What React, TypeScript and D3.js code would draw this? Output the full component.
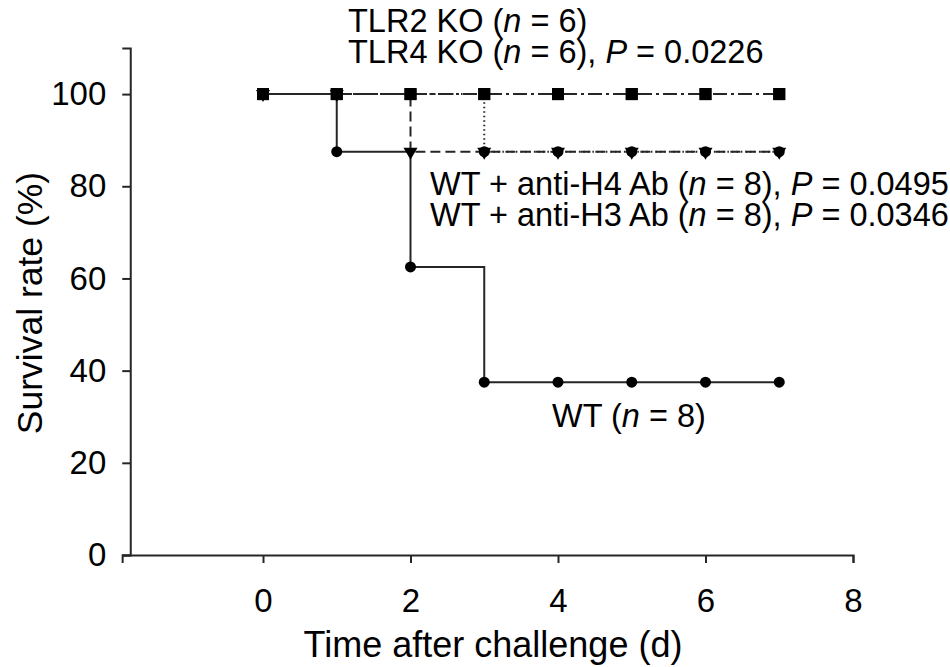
import React, { useEffect, useRef } from 'react';
import * as d3 from 'd3';

// survival (%) per day
const days = [0, 1, 2, 3, 4, 5, 6, 7];
const wtSurvival = [100, 87.5, 62.5, 37.5, 37.5, 37.5, 37.5, 37.5];
const tlr2Survival = [100, 100, 100, 100, 100, 100, 100, 100];
const tlr4Survival = [100, 100, 100, 100, 100, 100, 100, 100];
const antiH4Survival = [100, 100, 87.5, 87.5, 87.5, 87.5, 87.5, 87.5];
const antiH3Survival = [100, 100, 100, 87.5, 87.5, 87.5, 87.5, 87.5];

const xTicks = [0, 2, 4, 6, 8];
const yTicks = [0, 20, 40, 60, 80, 100];

const xTitle = 'Time after challenge (d)';
const yTitle = 'Survival rate (%)';

// label parts: [text, italic]
const tlr2Label = [['TLR2 KO (', false], ['n', true], [' = 6)', false]];
const tlr4Label = [['TLR4 KO (', false], ['n', true], [' = 6), ', false], ['P', true], [' = 0.0226', false]];
const h4Label = [['WT + anti-H4 Ab (', false], ['n', true], [' = 8), ', false], ['P', true], [' = 0.0495', false]];
const h3Label = [['WT + anti-H3 Ab (', false], ['n', true], [' = 8), ', false], ['P', true], [' = 0.0346', false]];
const wtLabel = [['WT (', false], ['n', true], [' = 8)', false]];

const FONT = '"Liberation Sans", Arial, Helvetica, sans-serif';
const LINE = '#262626';

export default function App() {
  const ref = useRef<SVGSVGElement>(null);

  useEffect(() => {
    const svg = d3.select(ref.current);
    svg.selectAll('*').remove();

    const x = d3.scaleLinear().domain([0, 8]).range([263, 853]);
    const y = d3.scaleLinear().domain([0, 110]).range([555, 48]);

    // x axis runs a little past the y axis on the left
    const xAxisScale = d3.scaleLinear().domain([-1.91, 8]).range([x(-1.91), x(8)]);
    const gx = svg.append('g')
      .attr('transform', `translate(0, ${y(0)})`)
      .call(d3.axisBottom(xAxisScale).tickValues(xTicks).tickSizeOuter(0).tickSize(8).tickPadding(26).tickFormat(d3.format('d')));
    gx.select('.domain').attr('stroke', LINE).attr('stroke-width', 2);
    gx.selectAll('.tick line').attr('stroke', LINE).attr('stroke-width', 2);
    gx.selectAll('.tick text').attr('font-size', 33).attr('font-family', FONT).attr('fill', '#000');

    const axisX = x(-1.8);
    const gy = svg.append('g')
      .attr('transform', `translate(${axisX}, 0)`)
      .call(d3.axisLeft(y).tickValues(yTicks).tickSizeOuter(0).tickSize(8).tickPadding(16).tickFormat(d3.format('d')));
    gy.select('.domain').attr('stroke', LINE).attr('stroke-width', 2);
    gy.selectAll('.tick line').attr('stroke', LINE).attr('stroke-width', 2);
    gy.selectAll('.tick text').attr('font-size', 33).attr('font-family', FONT).attr('fill', '#000');

    // titles
    svg.append('text')
      .attr('x', 493).attr('y', 657)
      .attr('text-anchor', 'middle')
      .attr('font-size', 36).attr('font-family', FONT)
      .text(xTitle);
    svg.append('text')
      .attr('transform', `translate(42, 303) rotate(-90)`)
      .attr('text-anchor', 'middle')
      .attr('font-size', 35.5).attr('font-family', FONT)
      .text(yTitle);

    const step = d3.line<number>()
      .x((d, i) => x(days[i]))
      .y(d => y(d))
      .curve(d3.curveStepAfter);

    const series = [
      { values: tlr2Survival, dash: '14,4,3,4', marker: 'square' },
      { values: tlr4Survival, dash: '14,4,3,4', marker: 'square' },
      { values: antiH3Survival, dash: '1.5,3', marker: 'circle' },
      { values: antiH4Survival, dash: '10,5', marker: 'triangle' },
      { values: wtSurvival, dash: null, marker: 'circle' },
    ];

    series.forEach(s => {
      svg.append('path')
        .attr('d', step(s.values))
        .attr('fill', 'none')
        .attr('stroke', LINE)
        .attr('stroke-width', 2)
        .attr('stroke-dasharray', s.dash);
    });

    // markers drawn after all lines
    series.forEach(s => {
      const g = svg.append('g');
      s.values.forEach((v, i) => {
        const cx = x(days[i]);
        const cy = y(v);
        if (s.marker === 'square') {
          g.append('rect').attr('x', cx - 6).attr('y', cy - 6).attr('width', 12).attr('height', 12).attr('fill', '#000');
        } else if (s.marker === 'circle') {
          g.append('circle').attr('cx', cx).attr('cy', cy).attr('r', 5.5).attr('fill', '#000');
        } else {
          g.append('path')
            .attr('d', `M${cx - 7},${cy - 4} L${cx + 7},${cy - 4} L${cx},${cy + 8} Z`)
            .attr('fill', '#000');
        }
      });
    });

    const label = (parts: any[], lx: number, ly: number) => {
      const t = svg.append('text')
        .attr('x', lx).attr('y', ly)
        .attr('font-size', 32.5).attr('font-family', FONT)
        .attr('fill', '#000');
      parts.forEach(([txt, it]) => {
        t.append('tspan').attr('font-style', it ? 'italic' : 'normal').text(txt);
      });
    };
    label(tlr2Label, 348, 32);
    label(tlr4Label, 348, 63);
    label(h4Label, 430, 195);
    label(h3Label, 430, 226);
    label(wtLabel, 552, 427);
  }, []);

  return (
    <svg ref={ref} width={950} height={667}
      style={{ position: 'absolute', left: 0, top: 0, background: '#fff' }} />
  );
}
